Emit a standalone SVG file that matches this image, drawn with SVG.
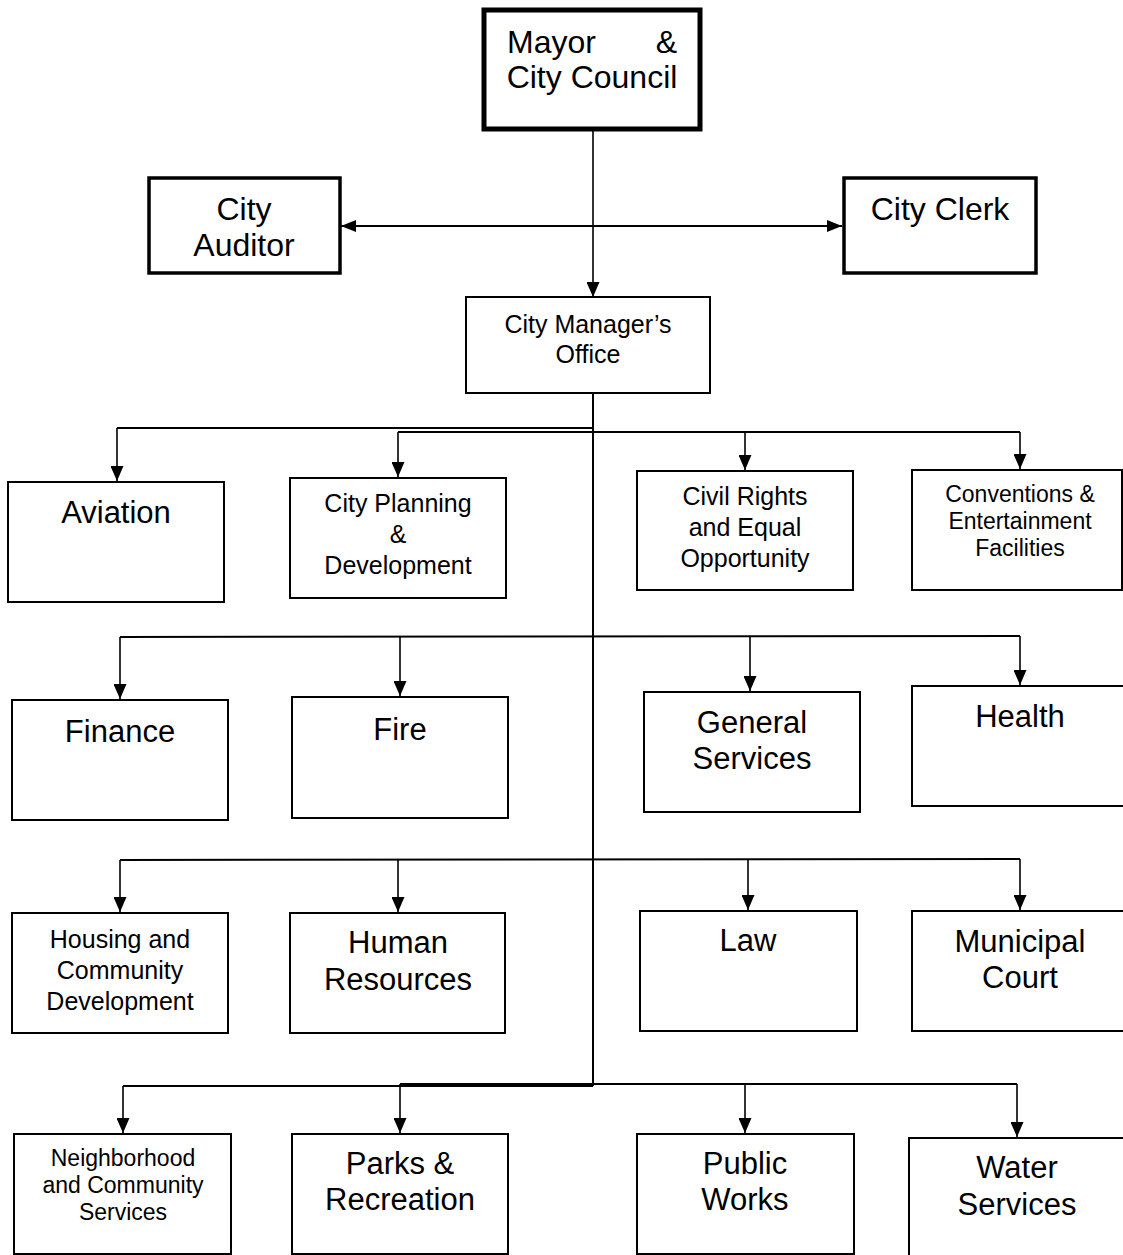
<svg xmlns="http://www.w3.org/2000/svg" width="1123" height="1255" viewBox="0 0 1123 1255">
  <defs>
    <marker id="arrow" markerUnits="userSpaceOnUse" markerWidth="15" markerHeight="13" viewBox="0 0 15 13" refX="15" refY="6.5" orient="auto">
      <path d="M0,0 L15,6.5 L0,13 z" fill="#000"/>
    </marker>
    <marker id="arrowStart" markerUnits="userSpaceOnUse" markerWidth="15" markerHeight="12" viewBox="0 0 15 12" refX="0" refY="6" orient="auto">
      <path d="M0,6 L15,0 L15,12 z" fill="#000"/>
    </marker>
    <marker id="arrowEnd" markerUnits="userSpaceOnUse" markerWidth="15" markerHeight="12" viewBox="0 0 15 12" refX="15" refY="6" orient="auto">
      <path d="M15,6 L0,0 L0,12 z" fill="#000"/>
    </marker>
    <style>
      .box { fill: #fff; stroke: #000; stroke-width: 2; }
      .heavy { stroke-width: 5; }
      .mid { stroke-width: 3.5; }
      text { font-family: "Liberation Sans", Arial, sans-serif; fill: #000; text-anchor: middle; }
      .lg { font-size: 31px; }
      .xl { font-size: 32px; }
      .md { font-size: 25px; }
      .sm { font-size: 23px; }
      .wire { fill: none; stroke: #000; stroke-width: 2; }
      .drop { fill: none; stroke: #000; stroke-width: 1.6; marker-end: url(#arrow); }
    </style>
  </defs>
  <rect width="1123" height="1255" fill="#fff"/>

  <!-- connectors -->
  <g id="connectors">
    <!-- council down to city manager -->
    <line class="drop" x1="593" y1="130" x2="593" y2="297"/>
    <!-- auditor / clerk link -->
    <line x1="341" y1="226" x2="842" y2="226" stroke="#000" stroke-width="2" marker-start="url(#arrowStart)" marker-end="url(#arrowEnd)"/>
    <!-- main trunk -->
    <line class="wire" x1="593" y1="393" x2="593" y2="1086"/>
    <!-- row 1 branches -->
    <polyline class="wire" points="117,428 593,428"/>
    <polyline class="wire" points="398,432 1020,432"/>
    <line class="drop" x1="117" y1="428" x2="117" y2="481"/>
    <line class="drop" x1="398" y1="432" x2="398" y2="477"/>
    <line class="drop" x1="745" y1="432" x2="745" y2="470"/>
    <line class="drop" x1="1020" y1="432" x2="1020" y2="469"/>
    <!-- row 2 branches -->
    <polyline class="wire" points="120,637 1020,636"/>
    <line class="drop" x1="120" y1="637" x2="120" y2="699"/>
    <line class="drop" x1="400" y1="636" x2="400" y2="696"/>
    <line class="drop" x1="750" y1="636" x2="750" y2="691"/>
    <line class="drop" x1="1020" y1="636" x2="1020" y2="685"/>
    <!-- row 3 branches -->
    <polyline class="wire" points="120,860 1020,859"/>
    <line class="drop" x1="120" y1="860" x2="120" y2="912"/>
    <line class="drop" x1="398" y1="860" x2="398" y2="912"/>
    <line class="drop" x1="748" y1="859" x2="748" y2="910"/>
    <line class="drop" x1="1020" y1="859" x2="1020" y2="910"/>
    <!-- row 4 branches -->
    <polyline class="wire" points="123,1086 593,1086"/>
    <polyline class="wire" points="400,1084 1017,1084"/>
    <line class="drop" x1="123" y1="1086" x2="123" y2="1133"/>
    <line class="drop" x1="400" y1="1084" x2="400" y2="1133"/>
    <line class="drop" x1="745" y1="1084" x2="745" y2="1133"/>
    <line class="drop" x1="1017" y1="1084" x2="1017" y2="1137"/>
  </g>

  <!-- top level -->
  <g id="mayor-council">
    <rect class="box heavy" x="484" y="10" width="216" height="119"/>
    <text class="xl" x="507" y="53" style="text-anchor:start">Mayor</text>
    <text class="xl" x="677" y="53" style="text-anchor:end">&amp;</text>
    <text class="xl" x="592" y="88">City Council</text>
  </g>
  <g id="city-auditor">
    <rect class="box mid" x="149" y="178" width="191" height="95"/>
    <text class="xl" x="244" y="220">City</text>
    <text class="xl" x="244" y="256">Auditor</text>
  </g>
  <g id="city-clerk">
    <rect class="box mid" x="844" y="178" width="192" height="95"/>
    <text class="xl" x="940" y="220">City Clerk</text>
  </g>
  <g id="city-manager">
    <rect class="box" x="466" y="297" width="244" height="96"/>
    <text class="md" x="588" y="333">City Manager’s</text>
    <text class="md" x="588" y="363">Office</text>
  </g>

  <!-- row 1 -->
  <g id="aviation">
    <rect class="box" x="8" y="482" width="216" height="120"/>
    <text class="lg" x="116" y="523">Aviation</text>
  </g>
  <g id="city-planning">
    <rect class="box" x="290" y="478" width="216" height="120"/>
    <text class="md" x="398" y="512">City Planning</text>
    <text class="md" x="398" y="543">&amp;</text>
    <text class="md" x="398" y="574">Development</text>
  </g>
  <g id="civil-rights">
    <rect class="box" x="637" y="471" width="216" height="119"/>
    <text class="md" x="745" y="505">Civil Rights</text>
    <text class="md" x="745" y="536">and Equal</text>
    <text class="md" x="745" y="567">Opportunity</text>
  </g>
  <g id="conventions">
    <rect class="box" x="912" y="470" width="210" height="120"/>
    <text class="sm" x="1020" y="502">Conventions &amp;</text>
    <text class="sm" x="1020" y="529">Entertainment</text>
    <text class="sm" x="1020" y="556">Facilities</text>
  </g>

  <!-- row 2 -->
  <g id="finance">
    <rect class="box" x="12" y="700" width="216" height="120"/>
    <text class="lg" x="120" y="742">Finance</text>
  </g>
  <g id="fire">
    <rect class="box" x="292" y="697" width="216" height="121"/>
    <text class="lg" x="400" y="740">Fire</text>
  </g>
  <g id="general-services">
    <rect class="box" x="644" y="692" width="216" height="120"/>
    <text class="lg" x="752" y="733">General</text>
    <text class="lg" x="752" y="769">Services</text>
  </g>
  <g id="health">
    <rect class="box" x="912" y="686" width="212" height="120"/>
    <text class="lg" x="1020" y="727">Health</text>
  </g>

  <!-- row 3 -->
  <g id="housing">
    <rect class="box" x="12" y="913" width="216" height="120"/>
    <text class="md" x="120" y="948">Housing and</text>
    <text class="md" x="120" y="979">Community</text>
    <text class="md" x="120" y="1010">Development</text>
  </g>
  <g id="human-resources">
    <rect class="box" x="290" y="913" width="215" height="120"/>
    <text class="lg" x="398" y="953">Human</text>
    <text class="lg" x="398" y="990">Resources</text>
  </g>
  <g id="law">
    <rect class="box" x="640" y="911" width="217" height="120"/>
    <text class="lg" x="748" y="951">Law</text>
  </g>
  <g id="municipal-court">
    <rect class="box" x="912" y="911" width="212" height="120"/>
    <text class="lg" x="1020" y="952">Municipal</text>
    <text class="lg" x="1020" y="988">Court</text>
  </g>

  <!-- row 4 -->
  <g id="neighborhood">
    <rect class="box" x="14" y="1134" width="217" height="120"/>
    <text class="sm" x="123" y="1166">Neighborhood</text>
    <text class="sm" x="123" y="1193">and Community</text>
    <text class="sm" x="123" y="1220">Services</text>
  </g>
  <g id="parks">
    <rect class="box" x="292" y="1134" width="216" height="120"/>
    <text class="lg" x="400" y="1174">Parks &amp;</text>
    <text class="lg" x="400" y="1210">Recreation</text>
  </g>
  <g id="public-works">
    <rect class="box" x="637" y="1134" width="217" height="120"/>
    <text class="lg" x="745" y="1174">Public</text>
    <text class="lg" x="745" y="1210">Works</text>
  </g>
  <g id="water-services">
    <rect class="box" x="909" y="1138" width="215" height="120"/>
    <text class="lg" x="1017" y="1178">Water</text>
    <text class="lg" x="1017" y="1215">Services</text>
  </g>
</svg>
